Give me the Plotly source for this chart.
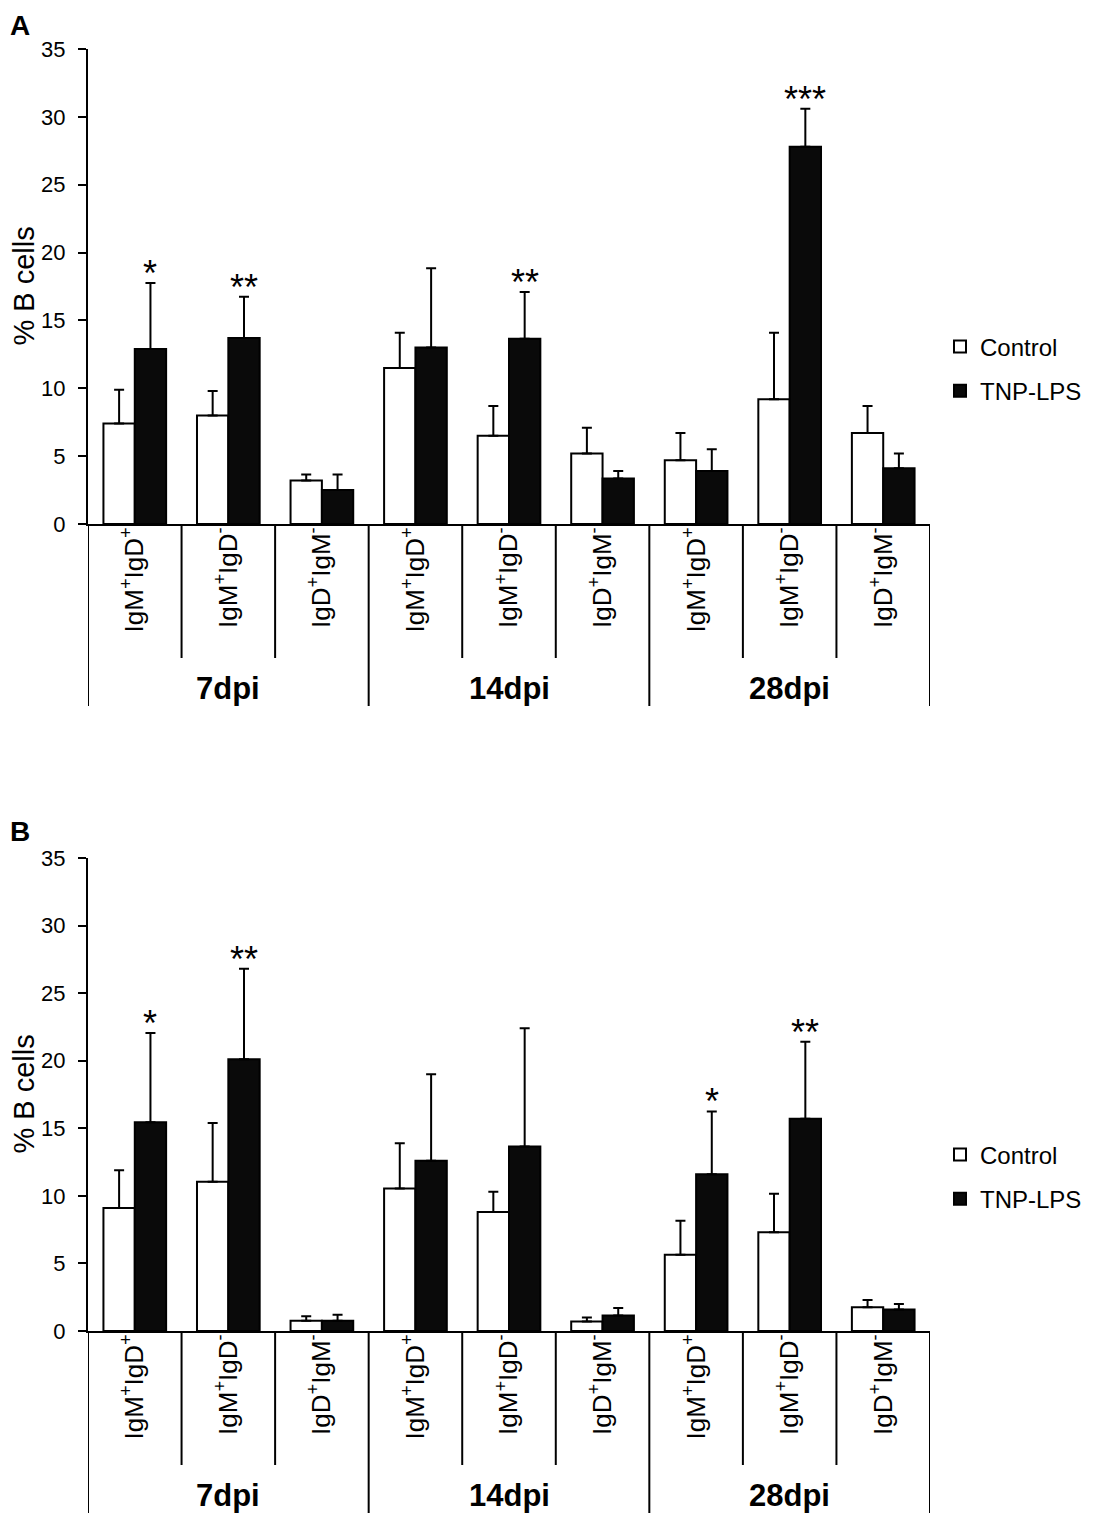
import plotly.graph_objects as go

# category labels (repeated for each time point) and time points
categories = ["IgM<sup>+</sup>IgD<sup>+</sup>", "IgM<sup>+</sup>IgD<sup>-</sup>", "IgD<sup>+</sup>IgM<sup>-</sup>"] * 3
groups = ["7dpi", "14dpi", "28dpi"]
series_names = ["Control", "TNP-LPS"]

# panel A
a_control = [7.4, 8.0, 3.2, 11.5, 6.5, 5.2, 4.7, 9.2, 6.7]
a_control_err = [2.5, 1.8, 0.45, 2.6, 2.2, 1.9, 2.0, 4.9, 2.0]
a_tnp = [12.9, 13.7, 2.5, 13.0, 13.65, 3.35, 3.9, 27.8, 4.1]
a_tnp_err = [4.85, 3.05, 1.15, 5.85, 3.45, 0.55, 1.6, 2.8, 1.1]
a_sig = ["*", "**", "", "", "**", "", "", "***", ""]

# panel B
b_control = [9.1, 11.05, 0.75, 10.55, 8.8, 0.7, 5.65, 7.3, 1.75]
b_control_err = [2.8, 4.35, 0.35, 3.35, 1.5, 0.3, 2.5, 2.85, 0.55]
b_tnp = [15.45, 20.1, 0.75, 12.6, 13.65, 1.15, 11.6, 15.7, 1.6]
b_tnp_err = [6.6, 6.7, 0.45, 6.4, 8.75, 0.55, 4.65, 5.7, 0.4]
b_sig = ["*", "**", "", "", "", "", "*", "**", ""]

FONT = "Liberation Sans, Arial, sans-serif"
W, H = 1101, 1515
PAGE = 8  # the html body has an 8px margin


def px_x(v):
    return (v - PAGE) / W


def px_y(v):
    return 1 - (v - PAGE) / H


x_dom = [px_x(88), px_x(930)]
panels = [
    # (control, control err, tnp, tnp err, sig, axis top px, axis bottom px, label, label top px, legend px)
    (a_control, a_control_err, a_tnp, a_tnp_err, a_sig, 49, 524, "A", 8, 369),
    (b_control, b_control_err, b_tnp, b_tnp_err, b_sig, 858, 1331, "B", 814, 1177),
]
BARGAP = 0.33

fig = go.Figure()
shapes = []
annotations = []
xs = list(range(len(categories)))
legend_style = dict(x=px_x(940), xanchor="left", yanchor="middle", traceorder="grouped",
                    tracegroupgap=10, bgcolor="rgba(0,0,0,0)",
                    font=dict(size=24, color="black", family=FONT))

for p, (ctl, ctl_e, tnp, tnp_e, sig, top_px, bot_px, letter, let_px, leg_px) in enumerate(panels):
    n = "" if p == 0 else str(p + 1)
    xa, ya = "x" + n, "y" + n
    leg = "legend" if p == 0 else "legend2"
    fig.add_trace(go.Bar(
        x=xs, y=ctl, name=series_names[0], xaxis=xa, yaxis=ya,
        marker=dict(color="white", line=dict(color="black", width=2)),
        error_y=dict(type="data", array=ctl_e, symmetric=False, arrayminus=[0] * len(ctl),
                     color="black", thickness=2, width=5),
        legend=leg, legendgroup="c" + n))
    fig.add_trace(go.Bar(
        x=xs, y=tnp, name=series_names[1], xaxis=xa, yaxis=ya,
        marker=dict(color="#0a0a0a", line=dict(color="black", width=2)),
        error_y=dict(type="data", array=tnp_e, symmetric=False, arrayminus=[0] * len(tnp),
                     color="black", thickness=2, width=5),
        legend=leg, legendgroup="t" + n))

    fig.update_layout({
        "xaxis" + n: dict(domain=x_dom, anchor=ya, range=[-0.5, 8.5], tickvals=xs, ticktext=categories,
                          tickangle=-90, ticks="", showline=True, linecolor="black", linewidth=2,
                          ticklabelstandoff=-9,
                          tickfont=dict(size=26, color="black", family=FONT), showgrid=False,
                          zeroline=False, automargin=False, fixedrange=True),
        "yaxis" + n: dict(domain=[px_y(bot_px), px_y(top_px)], anchor=xa, range=[0, 35], dtick=5,
                          ticks="outside", ticklen=8, tickwidth=2, tickcolor="black",
                          ticklabelstandoff=8,
                          showline=True, linecolor="black", linewidth=2,
                          showgrid=False, zeroline=False, automargin=False,
                          tickfont=dict(size=22, color="black", family=FONT)),
        leg: dict(legend_style, y=px_y(leg_px)),
    })

    # y axis title, kept clear of the tick labels
    annotations.append(dict(text="% B cells", xref="paper", yref=ya + " domain", x=0, y=0.5,
                            xanchor="left", yanchor="middle", textangle=-90, showarrow=False,
                            xshift=-3, font=dict(size=29, color="black", family=FONT)))

    # separators under the category axis
    for b in range(len(categories) + 1):
        shapes.append(dict(type="line", xref=xa, yref="paper", x0=b - 0.5, x1=b - 0.5,
                           y0=px_y(bot_px), y1=px_y(bot_px + (182 if b % 3 == 0 else 134)),
                           line=dict(color="black", width=2)))
    for g, name in enumerate(groups):
        annotations.append(dict(text="<b>%s</b>" % name, xref=xa, yref="paper", x=3 * g + 1,
                                y=px_y(bot_px + 164), showarrow=False, yanchor="middle",
                                font=dict(size=31, color="black", family=FONT)))
    # significance stars above the TNP-LPS bars
    off = (1 - BARGAP) / 4
    for i, s in enumerate(sig):
        if s:
            annotations.append(dict(text=s, xref=xa, yref=ya, x=i + off, y=tnp[i] + tnp_e[i],
                                    showarrow=False, yanchor="bottom", yshift=-13,
                                    font=dict(size=36, color="black", family=FONT)))
    annotations.append(dict(text="<b>%s</b>" % letter, xref="paper", yref="paper", x=0,
                            y=px_y(let_px), xanchor="left", yanchor="top", showarrow=False,
                            font=dict(size=28, color="black", family=FONT)))

fig.update_layout(
    width=W, height=H,
    margin=dict(l=0, r=0, t=0, b=0),
    paper_bgcolor="white", plot_bgcolor="white",
    barmode="group", bargap=BARGAP, bargroupgap=0,
    font=dict(family=FONT, color="black"),
    shapes=shapes, annotations=annotations,
)

fig.write_html("out.html")
